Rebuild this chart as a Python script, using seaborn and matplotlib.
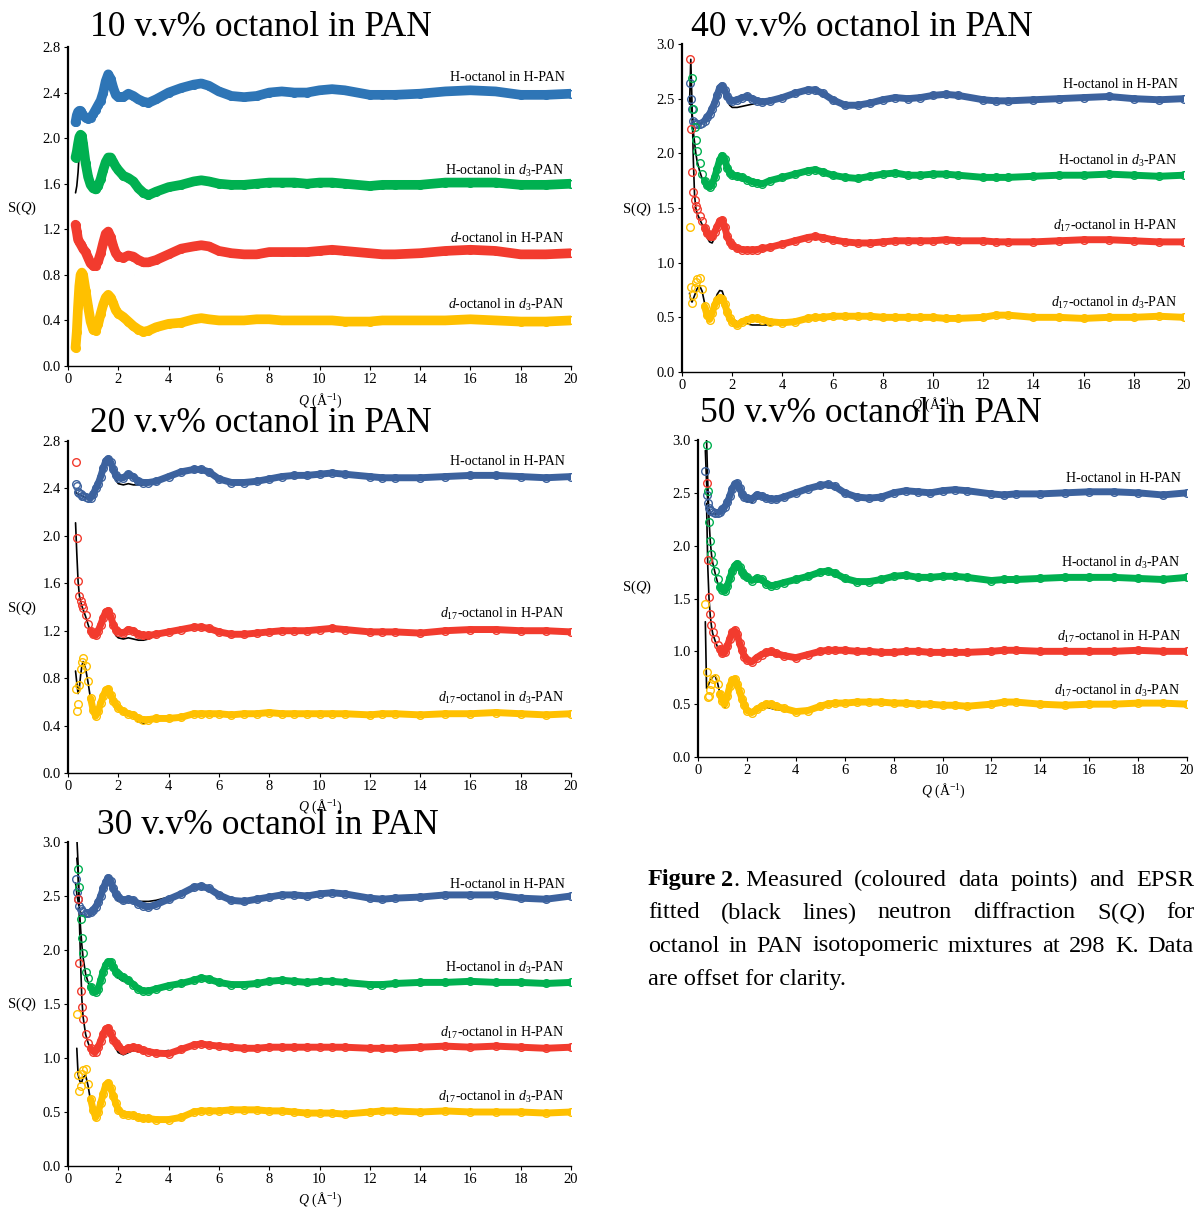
"""
plot.py: neutron diffraction S(Q) of octanol in PAN, five concentrations.
"""

import numpy as np
import matplotlib
matplotlib.use("Agg")
import matplotlib.pyplot as plt
import seaborn as sns

sns.set_theme(style="ticks")
plt.rcParams["font.family"] = ["Liberation Serif", "DejaVu Serif"]
plt.rcParams["mathtext.fontset"] = "custom"
plt.rcParams["mathtext.rm"] = "Liberation Serif"
plt.rcParams["mathtext.it"] = "Liberation Serif:italic"
plt.rcParams["mathtext.bf"] = "Liberation Serif:bold"
for key in ("text.color", "axes.labelcolor", "xtick.color", "ytick.color", "axes.edgecolor"):
    plt.rcParams[key] = "black"

nan = np.nan

# ── Data ──────────────────────────────────────────────────────────────────────
Q = [0.30, 0.35, 0.40, 0.45, 0.50, 0.55, 0.60, 0.70, 0.80, 0.90,
     1.0, 1.1, 1.2, 1.3, 1.4, 1.5, 1.6, 1.7, 1.8, 1.9, 2.0,
     2.2, 2.4, 2.6, 2.8, 3.0, 3.2, 3.5, 4.0,
     4.5, 5.0, 5.3, 5.6, 6.0, 6.5, 7.0, 7.5, 8.0, 8.5, 9.0, 9.5, 10.0, 10.5, 11.0,
     12.0, 12.5, 13.0, 14.0, 15.0, 16.0, 17.0, 18.0, 19.0, 20.0]
Q_FIT = Q[:29]   # fits only differ visibly below Q = 4

# 10 v.v%
S10_HH = [2.14, 2.20, 2.23, 2.24, 2.24, 2.22, 2.20, 2.18, 2.17, 2.18,
          2.21, 2.25, 2.29, 2.33, 2.40, 2.50, 2.56, 2.52, 2.44, 2.38, 2.36,
          2.36, 2.39, 2.37, 2.34, 2.32, 2.31, 2.34, 2.40,
          2.44, 2.47, 2.48, 2.46, 2.41, 2.37, 2.36, 2.37, 2.40, 2.41, 2.40, 2.40, 2.42, 2.43, 2.42,
          2.38, 2.38, 2.38, 2.39, 2.41, 2.42, 2.41, 2.38, 2.38, 2.39]
S10_HD = [1.83, 1.88, 1.95, 2.01, 2.03, 2.02, 1.95, 1.78, 1.66, 1.59,
          1.56, 1.55, 1.58, 1.64, 1.72, 1.79, 1.83, 1.83, 1.79, 1.75, 1.72,
          1.67, 1.65, 1.62, 1.56, 1.52, 1.50, 1.53, 1.57,
          1.59, 1.62, 1.63, 1.62, 1.60, 1.59, 1.59, 1.60, 1.61, 1.61, 1.61, 1.60, 1.61, 1.61, 1.60,
          1.58, 1.59, 1.59, 1.59, 1.61, 1.61, 1.61, 1.59, 1.59, 1.60]
S10_DH = [1.24, 1.18, 1.11, 1.09, 1.07, 1.05, 1.03, 1.00, 0.95, 0.90,
          0.88, 0.88, 0.92, 0.99, 1.08, 1.16, 1.18, 1.13, 1.05, 0.99, 0.96,
          0.95, 0.97, 0.96, 0.93, 0.91, 0.91, 0.93, 0.98,
          1.03, 1.05, 1.06, 1.05, 1.01, 0.99, 0.98, 0.98, 1.00, 1.00, 1.00, 1.00, 1.01, 1.02, 1.01,
          0.99, 0.98, 0.98, 0.99, 1.01, 1.02, 1.01, 0.98, 0.98, 0.99]
S10_DD = [0.16, 0.30, 0.52, 0.70, 0.80, 0.82, 0.80, 0.66, 0.52, 0.39,
          0.32, 0.31, 0.37, 0.46, 0.54, 0.60, 0.625, 0.60, 0.55, 0.49, 0.46,
          0.43, 0.39, 0.35, 0.32, 0.30, 0.31, 0.34, 0.37,
          0.38, 0.41, 0.42, 0.41, 0.40, 0.40, 0.40, 0.41, 0.41, 0.40, 0.40, 0.40, 0.40, 0.40, 0.39,
          0.39, 0.40, 0.40, 0.40, 0.40, 0.41, 0.40, 0.39, 0.39, 0.40]
F10_HH = [2.16, 2.20, 2.23, 2.24, 2.23, 2.21, 2.20, 2.18, 2.17, 2.18,
          2.21, 2.25, 2.29, 2.33, 2.40, 2.50, 2.55, 2.51, 2.43, 2.37, 2.35,
          2.36, 2.38, 2.37, 2.34, 2.32, 2.32, 2.36, 2.41]
F10_HD = [1.52, 1.58, 1.70, 1.88, 2.00, 2.02, 1.96, 1.78, 1.66, 1.59,
          1.56, 1.55, 1.58, 1.64, 1.72, 1.79, 1.83, 1.83, 1.78, 1.73, 1.70,
          1.65, 1.62, 1.58, 1.52, 1.50, 1.50, 1.53, 1.57]
F10_DH = [1.16, 1.13, 1.10, 1.08, 1.06, 1.05, 1.03, 1.00, 0.95, 0.90,
          0.88, 0.88, 0.92, 0.99, 1.08, 1.16, 1.18, 1.13, 1.05, 0.99, 0.96,
          0.95, 0.97, 0.96, 0.93, 0.92, 0.92, 0.95, 1.00]
F10_DD = [0.36, 0.45, 0.58, 0.68, 0.74, 0.76, 0.74, 0.64, 0.51, 0.39,
          0.32, 0.31, 0.37, 0.46, 0.55, 0.62, 0.65, 0.62, 0.56, 0.49, 0.46,
          0.43, 0.39, 0.35, 0.32, 0.30, 0.31, 0.34, 0.37]

# 20 v.v%
S20_HH = [2.44, 2.42, 2.37, 2.36, 2.35, 2.34, 2.34, 2.33, 2.32, 2.32,
          2.35, 2.40, 2.44, 2.50, 2.57, 2.63, 2.65, 2.62, 2.56, 2.51, 2.49,
          2.49, 2.52, 2.50, 2.46, 2.45, 2.45, 2.46, 2.50,
          2.54, 2.56, 2.56, 2.54, 2.48, 2.45, 2.45, 2.46, 2.48, 2.50, 2.51, 2.51, 2.52, 2.53, 2.52,
          2.50, 2.49, 2.49, 2.49, 2.50, 2.51, 2.51, 2.50, 2.49, 2.50]
S20_DH = [2.62, 1.98, 1.62, 1.49, 1.45, 1.42, 1.39, 1.33, 1.26, 1.20,
          1.17, 1.16, 1.20, 1.25, 1.31, 1.36, 1.37, 1.32, 1.25, 1.21, 1.19,
          1.18, 1.21, 1.20, 1.17, 1.16, 1.16, 1.17, 1.19,
          1.21, 1.23, 1.23, 1.22, 1.19, 1.17, 1.17, 1.18, 1.19, 1.20, 1.20, 1.20, 1.21, 1.22, 1.21,
          1.19, 1.19, 1.19, 1.18, 1.20, 1.21, 1.21, 1.20, 1.20, 1.19]
S20_DD = [0.71, 0.52, 0.58, 0.74, 0.88, 0.94, 0.97, 0.90, 0.78, 0.63,
          0.53, 0.48, 0.52, 0.59, 0.65, 0.70, 0.71, 0.66, 0.61, 0.58, 0.55,
          0.52, 0.50, 0.49, 0.46, 0.45, 0.45, 0.46, 0.46,
          0.47, 0.50, 0.50, 0.50, 0.50, 0.49, 0.50, 0.50, 0.51, 0.50, 0.50, 0.50, 0.50, 0.50, 0.50,
          0.49, 0.50, 0.50, 0.49, 0.50, 0.50, 0.51, 0.50, 0.49, 0.50]
F20_HH = [2.37, 2.36, 2.35, 2.35, 2.34, 2.34, 2.33, 2.32, 2.31, 2.31,
          2.34, 2.39, 2.44, 2.50, 2.57, 2.62, 2.64, 2.60, 2.52, 2.47, 2.44,
          2.43, 2.44, 2.43, 2.43, 2.43, 2.44, 2.46, 2.50]
F20_DH = [2.11, 1.85, 1.62, 1.50, 1.45, 1.41, 1.38, 1.32, 1.25, 1.19,
          1.16, 1.15, 1.19, 1.25, 1.31, 1.36, 1.37, 1.31, 1.22, 1.16, 1.14,
          1.13, 1.14, 1.13, 1.12, 1.12, 1.13, 1.16, 1.19]
F20_DD = [0.86, 0.76, 0.67, 0.72, 0.82, 0.90, 0.94, 0.88, 0.76, 0.62,
          0.52, 0.46, 0.51, 0.59, 0.66, 0.71, 0.72, 0.67, 0.61, 0.57, 0.54,
          0.51, 0.49, 0.47, 0.43, 0.42, 0.43, 0.45, 0.46]

# 30 v.v%
S30_HH = [2.66, 2.54, 2.47, 2.41, 2.38, 2.36, 2.35, 2.34, 2.34, 2.35,
          2.37, 2.40, 2.44, 2.50, 2.57, 2.63, 2.67, 2.64, 2.57, 2.52, 2.49,
          2.46, 2.47, 2.46, 2.43, 2.41, 2.40, 2.42, 2.47,
          2.52, 2.58, 2.59, 2.57, 2.51, 2.46, 2.45, 2.47, 2.49, 2.51, 2.51, 2.50, 2.52, 2.53, 2.52,
          2.48, 2.47, 2.48, 2.49, 2.51, 2.51, 2.51, 2.48, 2.47, 2.50]
S30_HD = [nan, nan, 2.75, 2.58, 2.29, 2.11, 1.97, 1.80, 1.74, 1.66,
          1.62, 1.61, 1.64, 1.72, 1.80, 1.86, 1.89, 1.89, 1.84, 1.80, 1.78,
          1.75, 1.72, 1.68, 1.64, 1.62, 1.62, 1.64, 1.67,
          1.69, 1.72, 1.74, 1.73, 1.70, 1.68, 1.68, 1.69, 1.71, 1.72, 1.71, 1.70, 1.71, 1.71, 1.70,
          1.68, 1.68, 1.69, 1.70, 1.70, 1.71, 1.70, 1.70, 1.69, 1.70]
S30_DH = [nan, nan, 2.47, 1.88, 1.62, 1.47, 1.36, 1.22, 1.14, 1.09,
          1.06, 1.06, 1.10, 1.16, 1.22, 1.27, 1.28, 1.23, 1.17, 1.14, 1.11,
          1.07, 1.09, 1.10, 1.09, 1.07, 1.06, 1.045, 1.04,
          1.08, 1.12, 1.13, 1.12, 1.11, 1.10, 1.09, 1.09, 1.10, 1.10, 1.10, 1.10, 1.10, 1.10, 1.10,
          1.09, 1.09, 1.09, 1.10, 1.11, 1.10, 1.11, 1.10, 1.09, 1.10]
S30_DD = [nan, 1.41, 0.84, 0.69, 0.74, 0.85, 0.89, 0.90, 0.76, 0.62,
          0.52, 0.45, 0.50, 0.58, 0.67, 0.75, 0.77, 0.72, 0.65, 0.58, 0.52,
          0.48, 0.475, 0.47, 0.45, 0.44, 0.44, 0.43, 0.43,
          0.45, 0.50, 0.51, 0.51, 0.51, 0.52, 0.52, 0.52, 0.51, 0.51, 0.50, 0.49, 0.49, 0.49, 0.48,
          0.50, 0.51, 0.51, 0.50, 0.51, 0.50, 0.50, 0.50, 0.49, 0.50]
F30_HH = [2.62, 2.52, 2.45, 2.38, 2.35, 2.33, 2.32, 2.31, 2.31, 2.32,
          2.35, 2.39, 2.44, 2.50, 2.57, 2.63, 2.66, 2.62, 2.54, 2.48, 2.45,
          2.44, 2.46, 2.45, 2.45, 2.45, 2.45, 2.46, 2.49]
F30_HD = [nan, 2.85, 2.72, 2.40, 2.20, 2.05, 1.93, 1.78, 1.70, 1.64,
          1.60, 1.59, 1.63, 1.71, 1.80, 1.86, 1.89, 1.88, 1.82, 1.77, 1.74,
          1.71, 1.70, 1.66, 1.63, 1.62, 1.62, 1.64, 1.67]
F30_DH = [nan, 3.05, 2.80, 2.30, 1.89, 1.55, 1.38, 1.22, 1.14, 1.08,
          1.05, 1.045, 1.09, 1.16, 1.24, 1.29, 1.30, 1.24, 1.15, 1.09, 1.05,
          1.03, 1.05, 1.07, 1.06, 1.05, 1.05, 1.05, 1.07]
F30_DD = [nan, 1.09, 0.85, 0.80, 0.77, 0.78, 0.82, 0.84, 0.74, 0.60,
          0.50, 0.43, 0.49, 0.58, 0.67, 0.74, 0.75, 0.70, 0.62, 0.55, 0.50,
          0.48, 0.47, 0.46, 0.45, 0.44, 0.44, 0.43, 0.44]

# 40 v.v%
S40_HH = [2.64, 2.50, 2.41, 2.30, 2.28, 2.27, 2.27, 2.27, 2.28, 2.30,
          2.33, 2.36, 2.41, 2.46, 2.53, 2.60, 2.62, 2.58, 2.52, 2.49, 2.48,
          2.49, 2.51, 2.52, 2.50, 2.48, 2.47, 2.48, 2.51,
          2.55, 2.58, 2.58, 2.55, 2.49, 2.44, 2.44, 2.46, 2.49, 2.51, 2.50, 2.51, 2.53, 2.54, 2.53,
          2.49, 2.48, 2.48, 2.49, 2.50, 2.51, 2.52, 2.50, 2.49, 2.50]
S40_HD = [nan, nan, 2.69, 2.41, 2.24, 2.12, 2.02, 1.91, 1.81, 1.75,
          1.71, 1.69, 1.72, 1.78, 1.86, 1.94, 1.98, 1.95, 1.87, 1.82, 1.80,
          1.79, 1.78, 1.76, 1.74, 1.73, 1.72, 1.75, 1.78,
          1.81, 1.84, 1.85, 1.83, 1.80, 1.78, 1.77, 1.79, 1.81, 1.82, 1.80, 1.80, 1.81, 1.81, 1.80,
          1.78, 1.78, 1.78, 1.79, 1.80, 1.80, 1.81, 1.80, 1.79, 1.80]
S40_DH = [2.86, 2.22, 1.83, 1.65, 1.57, 1.52, 1.49, 1.43, 1.38, 1.32,
          1.27, 1.24, 1.24, 1.28, 1.33, 1.38, 1.39, 1.33, 1.24, 1.19, 1.16,
          1.13, 1.12, 1.115, 1.115, 1.12, 1.13, 1.14, 1.17,
          1.20, 1.23, 1.24, 1.23, 1.21, 1.19, 1.18, 1.18, 1.19, 1.20, 1.20, 1.20, 1.20, 1.21, 1.20,
          1.20, 1.19, 1.19, 1.19, 1.20, 1.21, 1.21, 1.20, 1.19, 1.19]
S40_DD = [1.33, 0.78, 0.63, 0.70, 0.77, 0.82, 0.85, 0.86, 0.76, 0.60,
          0.52, 0.48, 0.54, 0.61, 0.66, 0.68, 0.67, 0.62, 0.55, 0.49, 0.46,
          0.43, 0.46, 0.48, 0.49, 0.49, 0.48, 0.46, 0.45,
          0.46, 0.49, 0.50, 0.50, 0.51, 0.51, 0.51, 0.51, 0.50, 0.50, 0.50, 0.50, 0.50, 0.49, 0.49,
          0.50, 0.52, 0.52, 0.50, 0.50, 0.49, 0.50, 0.50, 0.51, 0.50]
F40_HH = [2.52, 2.48, 2.35, 2.29, 2.27, 2.27, 2.27, 2.27, 2.28, 2.30,
          2.33, 2.36, 2.41, 2.46, 2.53, 2.60, 2.62, 2.57, 2.49, 2.44, 2.42,
          2.42, 2.43, 2.44, 2.45, 2.46, 2.47, 2.48, 2.51]
F40_HD = [nan, 2.50, 2.35, 2.20, 2.10, 2.00, 1.93, 1.84, 1.77, 1.72,
          1.69, 1.69, 1.73, 1.80, 1.88, 1.95, 1.98, 1.93, 1.85, 1.80, 1.78,
          1.77, 1.76, 1.75, 1.74, 1.73, 1.73, 1.75, 1.78]
F40_DH = [2.45, 2.86, 2.45, 1.95, 1.62, 1.50, 1.45, 1.40, 1.35, 1.29,
          1.23, 1.19, 1.18, 1.23, 1.30, 1.36, 1.37, 1.30, 1.22, 1.17, 1.15,
          1.13, 1.12, 1.12, 1.12, 1.12, 1.13, 1.14, 1.17]
F40_DD = [0.72, 0.66, 0.64, 0.67, 0.70, 0.73, 0.76, 0.79, 0.74, 0.63,
          0.54, 0.50, 0.55, 0.64, 0.71, 0.745, 0.74, 0.67, 0.58, 0.51, 0.48,
          0.46, 0.45, 0.44, 0.43, 0.43, 0.43, 0.43, 0.45]

# 50 v.v%
S50_HH = [2.71, 2.48, 2.40, 2.36, 2.34, 2.33, 2.32, 2.31, 2.31, 2.32,
          2.35, 2.37, 2.41, 2.47, 2.54, 2.58, 2.59, 2.55, 2.49, 2.46, 2.45,
          2.44, 2.48, 2.47, 2.45, 2.44, 2.44, 2.46, 2.50,
          2.54, 2.57, 2.58, 2.56, 2.50, 2.46, 2.45, 2.46, 2.50, 2.52, 2.51, 2.50, 2.52, 2.53, 2.52,
          2.49, 2.48, 2.49, 2.49, 2.50, 2.51, 2.51, 2.50, 2.48, 2.50]
S50_HD = [nan, 2.95, 2.52, 2.22, 2.04, 1.92, 1.85, 1.76, 1.68, 1.61,
          1.58, 1.57, 1.62, 1.69, 1.76, 1.81, 1.83, 1.80, 1.75, 1.72, 1.70,
          1.67, 1.69, 1.68, 1.64, 1.62, 1.63, 1.65, 1.68,
          1.71, 1.75, 1.76, 1.74, 1.69, 1.66, 1.66, 1.68, 1.71, 1.72, 1.70, 1.70, 1.71, 1.71, 1.70,
          1.67, 1.68, 1.68, 1.69, 1.70, 1.70, 1.70, 1.69, 1.68, 1.70]
S50_DH = [nan, 2.59, 1.86, 1.51, 1.35, 1.25, 1.18, 1.12, 1.06, 1.02,
          0.98, 0.99, 1.05, 1.12, 1.18, 1.20, 1.16, 1.08, 1.01, 0.95, 0.92,
          0.90, 0.94, 0.97, 0.99, 1.00, 0.98, 0.96, 0.94,
          0.97, 1.00, 1.01, 1.01, 1.01, 1.00, 1.00, 0.99, 0.99, 1.00, 1.00, 0.99, 0.99, 0.99, 0.99,
          1.00, 1.01, 1.01, 1.00, 1.00, 1.00, 1.00, 1.01, 1.00, 1.00]
S50_DD = [1.45, 0.80, 0.57, 0.58, 0.63, 0.69, 0.74, 0.75, 0.69, 0.60,
          0.53, 0.50, 0.58, 0.67, 0.73, 0.74, 0.69, 0.62, 0.55, 0.49, 0.44,
          0.42, 0.45, 0.48, 0.50, 0.50, 0.48, 0.46, 0.43,
          0.44, 0.48, 0.50, 0.51, 0.51, 0.52, 0.52, 0.52, 0.51, 0.51, 0.50, 0.50, 0.49, 0.49, 0.48,
          0.50, 0.52, 0.52, 0.50, 0.49, 0.50, 0.50, 0.51, 0.51, 0.50]
F50_HH = [2.90, 2.60, 2.42, 2.34, 2.31, 2.30, 2.30, 2.30, 2.30, 2.32,
          2.35, 2.37, 2.41, 2.47, 2.54, 2.58, 2.58, 2.53, 2.47, 2.43, 2.42,
          2.41, 2.45, 2.46, 2.45, 2.44, 2.44, 2.46, 2.50]
F50_HD = [3.10, 3.00, 2.60, 2.25, 2.05, 1.92, 1.84, 1.74, 1.65, 1.59,
          1.56, 1.55, 1.60, 1.68, 1.76, 1.81, 1.82, 1.78, 1.72, 1.69, 1.67,
          1.66, 1.68, 1.67, 1.64, 1.62, 1.63, 1.65, 1.68]
F50_DH = [nan, 2.40, 1.80, 1.50, 1.34, 1.24, 1.17, 1.10, 1.04, 1.00,
          0.97, 0.98, 1.04, 1.11, 1.17, 1.19, 1.15, 1.07, 1.00, 0.95, 0.93,
          0.92, 0.94, 0.96, 0.97, 0.97, 0.97, 0.96, 0.95]
F50_DD = [1.28, 0.65, 0.66, 0.70, 0.72, 0.74, 0.76, 0.77, 0.70, 0.60,
          0.50, 0.47, 0.56, 0.66, 0.73, 0.75, 0.70, 0.61, 0.52, 0.47, 0.45,
          0.44, 0.45, 0.46, 0.47, 0.46, 0.45, 0.44, 0.43]

LABELS_10 = ["H-octanol in H-PAN", r"H-octanol in $d_3$-PAN",
             r"$d$-octanol in H-PAN", r"$d$-octanol in $d_3$-PAN"]
LAB_HH = "H-octanol in H-PAN"
LAB_HD = r"H-octanol in $d_3$-PAN"
LAB_DH = r"$d_{17}$-octanol in H-PAN"
LAB_DD = r"$d_{17}$-octanol in $d_3$-PAN"

# ── Styling ──────────────────────────────────────────────────────────────────
W, H = 1195, 1210
BLUE10, BLUE = "#2E75B6", "#3C629E"
GREEN, RED, YELLOW = "#00B050", "#F23B2E", "#FFC000"


def fx(x):
    return x / W


def fy(y):
    return 1 - y / H


def rect(x0, x1, ytop, ybot):
    return [fx(x0), fy(ybot), fx(x1) - fx(x0), fy(ytop) - fy(ybot)]


PANELS = [
    dict(title="10 v.v% octanol in PAN", rect=rect(68, 571, 47, 366), ymax=2.8, ystep=0.4,
         title_xy=(261, 27), xlab_xy=(320, 401), ylab_ax=(-0.091, 0.495),
         band_from=0.3, band_lw=7.0,
         series=[(S10_HH, F10_HH, BLUE10, LABELS_10[0], 2.53),
                 (S10_HD, F10_HD, GREEN, LABELS_10[1], 1.71),
                 (S10_DH, F10_DH, RED, LABELS_10[2], 1.12),
                 (S10_DD, F10_DD, YELLOW, LABELS_10[3], 0.535)]),
    dict(title="20 v.v% octanol in PAN", rect=rect(68, 571, 441, 773), ymax=2.8, ystep=0.4,
         title_xy=(261, 423), xlab_xy=(320, 807), ylab_ax=(-0.091, 0.497),
         band_from=0.9, band_lw=5.0,
         series=[(S20_HH, F20_HH, BLUE, LAB_HH, 2.63),
                 (S20_DH, F20_DH, RED, LAB_DH, 1.34),
                 (S20_DD, F20_DD, YELLOW, LAB_DD, 0.633)]),
    dict(title="30 v.v% octanol in PAN", rect=rect(68, 571, 842, 1166), ymax=3.0, ystep=0.5,
         title_xy=(268, 826), xlab_xy=(320, 1200), ylab_ax=(-0.091, 0.5),
         band_from=0.9, band_lw=5.0,
         series=[(S30_HH, F30_HH, BLUE, LAB_HH, 2.61),
                 (S30_HD, F30_HD, GREEN, LAB_HD, 1.83),
                 (S30_DH, F30_DH, RED, LAB_DH, 1.23),
                 (S30_DD, F30_DD, YELLOW, LAB_DD, 0.64)]),
    dict(title="40 v.v% octanol in PAN", rect=rect(682, 1184, 44, 372), ymax=3.0, ystep=0.5,
         title_xy=(862, 27), xlab_xy=(933, 405), ylab_ax=(-0.09, 0.497),
         band_from=0.9, band_lw=5.0,
         series=[(S40_HH, F40_HH, BLUE, LAB_HH, 2.625),
                 (S40_HD, F40_HD, GREEN, LAB_HD, 1.93),
                 (S40_DH, F40_DH, RED, LAB_DH, 1.335),
                 (S40_DD, F40_DD, YELLOW, LAB_DD, 0.63)]),
    dict(title="50 v.v% octanol in PAN", rect=rect(698, 1187, 440, 757), ymax=3.0, ystep=0.5,
         title_xy=(871, 414), xlab_xy=(943, 791), ylab_ax=(-0.125, 0.536),
         band_from=0.9, band_lw=5.0,
         series=[(S50_HH, F50_HH, BLUE, LAB_HH, 2.64),
                 (S50_HD, F50_HD, GREEN, LAB_HD, 1.836),
                 (S50_DH, F50_DH, RED, LAB_DH, 1.136),
                 (S50_DD, F50_DD, YELLOW, LAB_DD, 0.625)]),
]

fig = plt.figure(figsize=(W / 100, H / 100), dpi=100)
q = np.asarray(Q)
qf = np.asarray(Q_FIT)

for p in PANELS:
    ax = fig.add_axes(p["rect"])
    for data, fit, color, label, ylab in p["series"]:
        s = np.asarray(data, dtype=float)
        f = np.asarray(fit, dtype=float)
        ok = ~np.isnan(s)
        band = ok & (q >= p["band_from"])
        okf = ~np.isnan(f)
        # fitted EPSR line (under the data)
        sns.lineplot(x=qf[okf], y=f[okf], ax=ax, color="black", lw=1.2,
                     estimator=None, sort=False, zorder=2)
        # measured points: dense band + open circles
        sns.lineplot(x=q[band], y=s[band], ax=ax, color=color, lw=p["band_lw"],
                     estimator=None, sort=False, zorder=3,
                     solid_capstyle="round", solid_joinstyle="round")
        sns.lineplot(x=q[ok], y=s[ok], ax=ax, color=color, lw=0, marker="o",
                     markersize=5.5, markerfacecolor="none", markeredgecolor=color,
                     markeredgewidth=1.0, estimator=None, sort=False, zorder=4)
        ax.text(19.75, ylab, label, ha="right", va="center", fontsize=10, zorder=5)

    ax.set_xlim(0, 20)
    ax.set_ylim(0, p["ymax"])
    ax.set_xticks(np.arange(0, 21, 2))
    ax.set_yticks(np.arange(0, p["ymax"] + 0.01, p["ystep"]))
    ax.yaxis.set_major_formatter(matplotlib.ticker.FormatStrFormatter("%.1f"))
    ax.tick_params(labelsize=10.5, length=3, width=0.8, pad=2, color="black",
                   labelcolor="black")
    ax.set_xlabel("")
    ax.set_ylabel("")
    sns.despine(ax=ax)
    ax.spines["left"].set_linewidth(1.6)
    ax.spines["bottom"].set_linewidth(1.0)
    ax.spines["left"].set_color("black")
    ax.spines["bottom"].set_color("black")
    ax.text(*p["ylab_ax"], r"S($Q$)", transform=ax.transAxes, ha="center",
            va="center", fontsize=10.5)
    fig.text(fx(p["xlab_xy"][0]), fy(p["xlab_xy"][1]), r"$Q$ (Å$^{-1}$)",
             ha="center", va="center", fontsize=10)
    fig.text(fx(p["title_xy"][0]), fy(p["title_xy"][1]), p["title"],
             ha="center", va="center", fontsize=25.5, color="black")

# ── Caption (justified) ──────────────────────────────────────────────────────
CAPTION = [
    [("Figure", "bold"), ("2", "bold"), (". Measured", "normal"), ("(coloured", "normal"),
     ("data", "normal"), ("points)", "normal"), ("and", "normal"), ("EPSR", "normal")],
    [("fitted", "normal"), ("(black", "normal"), ("lines)", "normal"), ("neutron", "normal"),
     ("diffraction", "normal"), (r"S($Q$)", "normal"), ("for", "normal")],
    [("octanol", "normal"), ("in", "normal"), ("PAN", "normal"), ("isotopomeric", "normal"),
     ("mixtures", "normal"), ("at", "normal"), ("298", "normal"), ("K.", "normal"),
     ("Data", "normal")],
    [("are offset for clarity.", "normal")],
]
CAP_X0, CAP_X1 = 648, 1194
CAP_Y = [880, 913, 946, 980]

renderer = fig.canvas.get_renderer()
for li, (words, y) in enumerate(zip(CAPTION, CAP_Y)):
    texts = [fig.text(0, fy(y), w, fontweight=fw, fontsize=17.5, ha="left", va="center",
                      color="black")
             for w, fw in words]
    widths = [t.get_window_extent(renderer).width for t in texts]
    if len(texts) == 1:
        texts[0].set_x(fx(CAP_X0))
        continue
    if li == 0:
        # bold "Figure 2" then ". Measured" glued to it, rest spread to the margin
        sp = 5
        x = CAP_X0
        texts[0].set_x(fx(x))
        x += widths[0] + sp
        texts[1].set_x(fx(x))
        x += widths[1]
        texts[2].set_x(fx(x))
        start = x + widths[2]
        rest, rw = texts[3:], widths[3:]
        g2 = (CAP_X1 - start - sum(rw)) / len(rest)
        x = start + g2
        for t, w in zip(rest, rw):
            t.set_x(fx(x))
            x += w + g2
        continue
    gap = (CAP_X1 - CAP_X0 - sum(widths)) / (len(texts) - 1)
    x = CAP_X0
    for t, w in zip(texts, widths):
        t.set_x(fx(x))
        x += w + gap

fig.savefig("out.png", dpi=100)
